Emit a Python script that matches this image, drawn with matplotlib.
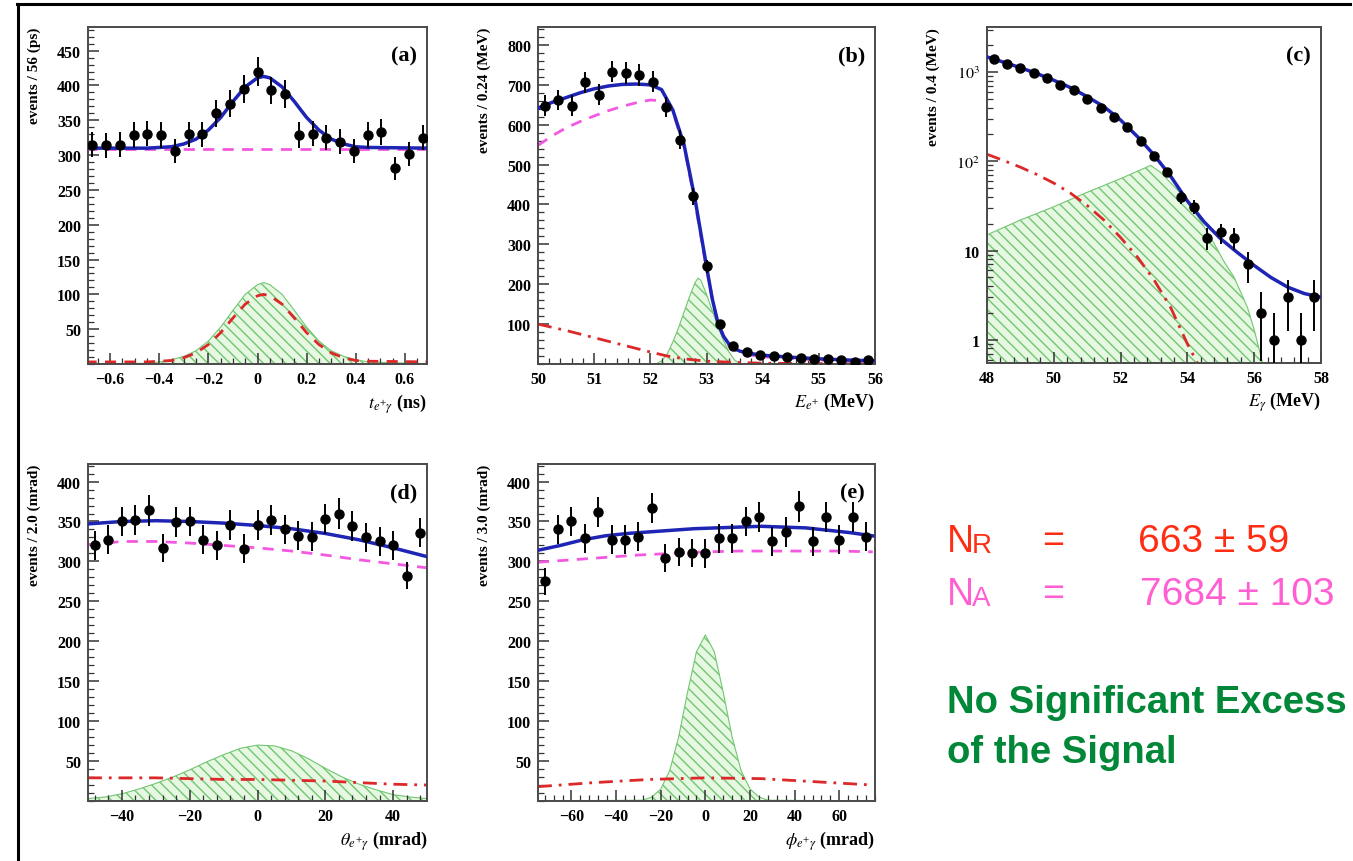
import numpy as np
import matplotlib
matplotlib.use("Agg")
import matplotlib.pyplot as plt
from matplotlib.ticker import AutoMinorLocator, FixedLocator, FixedFormatter, LogLocator, NullFormatter
from matplotlib.lines import Line2D

plt.rcParams['font.family'] = ['Liberation Serif', 'DejaVu Serif']
plt.rcParams['mathtext.fontset'] = 'stix'
plt.rcParams['hatch.linewidth'] = 1.0

# ---- (a) t_e+gamma ----
a_x = [-0.672, -0.616, -0.56, -0.504, -0.448, -0.392, -0.336, -0.28, -0.224, -0.168, -0.112, -0.056,
       0.0, 0.056, 0.112, 0.168, 0.224, 0.28, 0.336, 0.392, 0.448, 0.504, 0.56, 0.616, 0.672]
a_y = [315, 314, 315, 329, 331, 329, 306, 330, 330, 360, 374, 395, 420, 393, 388, 329, 331, 325, 319,
       306, 329, 333, 281, 302, 325]
a_cx = [-0.7, -0.45, -0.4, -0.35, -0.3, -0.25, -0.2, -0.15, -0.1, -0.05, 0.0, 0.025, 0.05, 0.1, 0.15,
        0.2, 0.25, 0.3, 0.35, 0.4, 0.45, 0.7]
a_tot = [310, 310, 311, 312, 316, 323, 336, 354, 377, 398, 411, 413, 411, 398, 377, 354, 336, 323, 316,
         312, 311, 310]
a_rmd = [3, 3, 4, 5, 9, 16, 28, 45, 66, 86, 98, 100, 98, 86, 66, 45, 28, 16, 9, 5, 4, 3]
a_sig = [0, 1, 3, 6, 11, 19, 33, 53, 77, 100, 114, 117, 114, 100, 77, 53, 33, 19, 11, 6, 3, 0]
a_accx = [-0.7, 0.7]
a_acc = [309, 309]

# ---- (b) E_e+ ----
b_x = [50.12, 50.36, 50.6, 50.84, 51.08, 51.32, 51.56, 51.8, 52.04, 52.28, 52.52, 52.76, 53.0, 53.24,
       53.48, 53.72, 53.96, 54.2, 54.44, 54.68, 54.92, 55.16, 55.4, 55.64, 55.88]
b_y = [648, 662, 648, 706, 675, 733, 729, 725, 708, 645, 562, 420, 245, 100, 45, 30, 22, 20, 18, 15, 13,
       12, 10, 6, 10]
b_cx = [50.0, 50.25, 50.5, 50.75, 51.0, 51.25, 51.5, 51.75, 52.0, 52.2, 52.4, 52.6, 52.8, 53.0, 53.1,
        53.2, 53.3, 53.4, 53.5, 53.6, 53.8, 54.0, 54.5, 55.0, 55.5, 56.0]
b_tot = [642, 656, 668, 680, 690, 697, 701, 702, 700, 688, 637, 550, 410, 245, 165, 105, 70, 50, 38, 32,
         26, 22, 17, 13, 10, 8]
b_accx = [50.0, 50.25, 50.5, 50.75, 51.0, 51.25, 51.5, 51.75, 52.0, 52.2, 52.4, 52.6, 52.8, 53.0, 53.2,
          53.4, 53.6, 54.0, 55.0, 56.0]
b_acc = [548, 572, 592, 608, 622, 635, 646, 655, 662, 660, 632, 545, 402, 238, 100, 45, 26, 18, 10, 6]
b_rmdx = [50.0, 50.5, 51.0, 51.5, 52.0, 52.3, 52.6, 53.0, 53.5, 54.0, 55.0, 56.0]
b_rmd = [100, 84, 66, 48, 30, 20, 13, 7, 4, 2, 1, 0]
b_sigx = [50.0, 52.1, 52.2, 52.3, 52.4, 52.5, 52.6, 52.7, 52.8, 52.85, 52.9, 53.0, 53.1, 53.2, 53.3,
          53.4, 53.5, 53.6, 56.0]
b_sig = [0, 0, 8, 25, 55, 90, 130, 170, 205, 215, 210, 175, 135, 95, 60, 30, 10, 0, 0]

# ---- (c) E_gamma (log) ----
c_x = [48.2, 48.6, 49.0, 49.4, 49.8, 50.2, 50.6, 51.0, 51.4, 51.8, 52.2, 52.6, 53.0, 53.4, 53.8, 54.2,
       54.6, 55.0, 55.4, 55.8, 56.2, 56.6, 57.0, 57.4, 57.8]
c_y = [1400, 1230, 1100, 970, 850, 714, 628, 497, 400, 310, 240, 170, 115, 75, 40, 31, 14, 16, 14, 7,
       2, 1, 3, 1, 3]
c_cx = [48.0, 48.5, 49.0, 49.5, 50.0, 50.5, 51.0, 51.5, 52.0, 52.5, 53.0, 53.5, 54.0, 54.5, 55.0, 55.5,
        56.0, 56.5, 57.0, 57.5, 58.0]
c_tot = [1480, 1290, 1120, 960, 810, 670, 530, 410, 290, 190, 118, 68, 36, 21, 13.5, 9.5, 6.8, 5.0,
         3.9, 3.3, 3.0]
c_rmdx = [48.0, 48.5, 49.0, 49.5, 50.0, 50.5, 51.0, 51.5, 52.0, 52.5, 53.0, 53.5, 54.0, 54.3]
c_rmd = [120, 102, 86, 71, 57, 44, 32, 22, 14, 8.5, 4.7, 2.3, 0.9, 0.55]
c_sigx = [48.0, 49.0, 50.0, 51.0, 52.0, 52.9, 53.2, 53.7, 54.2, 54.7, 55.1, 55.4, 55.8, 56.0, 56.25]
c_sig = [15, 22, 31, 45, 64, 90, 75, 48, 28, 14, 7.5, 5, 2.3, 1.3, 0.55]

# ---- (d) theta_e+gamma ----
d_x = [-48, -44, -40, -36, -32, -28, -24, -20, -16, -12, -8, -4, 0, 4, 8, 12, 16, 20, 24, 28, 32, 36,
       40, 44, 48]
d_y = [320, 327, 350, 352, 364, 317, 349, 350, 327, 320, 346, 316, 346, 352, 340, 332, 331, 353, 360,
       344, 330, 325, 320, 282, 336]
d_cx = [-50, -40, -30, -20, -10, 0, 10, 20, 30, 40, 50]
d_tot = [347, 350, 351, 350, 348, 345, 341, 335, 327, 317, 306]
d_acc = [321, 325, 325, 323, 320, 317, 313, 308, 302, 297, 292]
d_rmd = [29, 29, 29, 28, 27, 27, 26, 25, 23, 21, 20]
d_sigx = [-50, -45, -40, -35, -30, -25, -20, -15, -10, -5, 0, 5, 10, 15, 20, 25, 30, 35, 40, 45, 50]
d_sig = [3, 5, 9, 15, 22, 30, 39, 49, 58, 66, 70, 69, 63, 53, 41, 30, 21, 14, 8, 5, 3]

# ---- (e) phi_e+gamma ----
e_x = [-72, -66, -60, -54, -48, -42, -36, -30, -24, -18, -12, -6, 0, 6, 12, 18, 24, 30, 36, 42, 48, 54,
       60, 66, 72]
e_y = [275, 340, 350, 329, 362, 327, 327, 331, 367, 304, 312, 311, 310, 329, 329, 350, 356, 325, 337,
       369, 325, 356, 327, 356, 331]
e_cx = [-75, -65, -55, -45, -35, -25, -15, -5, 5, 15, 25, 35, 45, 55, 65, 75]
e_tot = [314, 320, 327, 332, 335, 337, 339, 341, 342, 343, 344, 343, 342, 339, 336, 332]
e_accx = [-75, -60, -45, -30, -15, 0, 15, 30, 45, 60, 75]
e_acc = [299, 302, 305, 308, 310, 312, 313, 313, 313, 313, 312]
e_rmdx = [-75, -50, -25, 0, 25, 50, 75]
e_rmd = [18, 23, 27, 29, 28, 24, 20]
e_sigx = [-75, -28, -24, -20, -16, -12, -8, -4, 0, 4, 8, 12, 16, 20, 24, 28, 75]
e_sig = [0, 1, 5, 15, 38, 80, 136, 187, 208, 187, 136, 80, 38, 15, 5, 1, 0]

BLUE = '#1e24b4'
MAG = '#f458e0'
RED = '#dc2828'

W, H = 1353, 862
fig = plt.figure(figsize=(W / 100, H / 100), dpi=100)


def box(l, t, r, b):
    return [l / W, 1 - b / H, (r - l) / W, (b - t) / H]


def style(ax, tag, ylab, xlab):
    for s in ax.spines.values():
        s.set_color('#4a4a4a')
        s.set_linewidth(1.4)
    ax.tick_params(which='both', direction='in', top=False, right=False, color='#333333',
                   labelsize=11.5, pad=5)
    ax.tick_params(which='major', length=8, width=1.1)
    ax.tick_params(which='minor', length=4, width=0.9)
    for lab in ax.get_xticklabels() + ax.get_yticklabels():
        lab.set_fontweight('bold')
    ax.text(0.97, 0.915, tag, transform=ax.transAxes, ha='right', va='center',
            fontsize=16, fontweight='bold')
    ax.set_ylabel(ylab, fontsize=11, fontweight='bold', loc='top')
    ax.yaxis.set_label_coords(-0.14, 1.0)
    ax.set_xlabel(xlab, fontsize=13, fontweight='bold', loc='right')
    ax.xaxis.set_label_coords(1.0, -0.08)


def draw(ax, x, y, cx, tot, accx, acc, rmdx, rmd, sigx, sig, rmd_dash, floor=0):
    ax.fill_between(sigx, sig, floor, facecolor='#e6f7e2', edgecolor='#72c672', hatch='\\\\\\',
                    linewidth=0.8, zorder=1)
    if accx is not None:
        ax.plot(accx, acc, color=MAG, lw=2.0, dashes=(4, 3), zorder=2)
    ax.plot(rmdx, rmd, color=RED, lw=2.0, dashes=rmd_dash, zorder=2)
    ax.plot(cx, tot, color=BLUE, lw=2.5, zorder=3)
    y = np.array(y, dtype=float)
    err = np.sqrt(y)
    lo = np.minimum(err, y - 0.3)
    ax.errorbar(x, y, yerr=[lo, err], fmt='o', color='black', ms=6.5, elinewidth=1.4, capsize=0,
                zorder=4)


DD = (5, 2.5, 1, 2.5)

# (a)
ax = fig.add_axes(box(88, 28, 427, 365))
draw(ax, a_x, a_y, a_cx, a_tot, a_accx, a_acc, a_cx, a_rmd, a_cx, a_sig, (4, 3))
ax.set_xlim(-0.69, 0.69)
ax.set_ylim(0, 484)
ax.xaxis.set_major_locator(FixedLocator([-0.6, -0.4, -0.2, 0, 0.2, 0.4, 0.6]))
ax.xaxis.set_major_formatter(FixedFormatter(['\u22120.6', '\u22120.4', '\u22120.2', '0', '0.2', '0.4', '0.6']))
ax.yaxis.set_major_locator(FixedLocator([50, 100, 150, 200, 250, 300, 350, 400, 450]))
ax.xaxis.set_minor_locator(AutoMinorLocator(4))
ax.yaxis.set_minor_locator(AutoMinorLocator(5))
style(ax, '(a)', 'events / 56 (ps)', r'$t_{e^{+}\gamma}$ (ns)')

# (b)
ax = fig.add_axes(box(538, 28, 875, 365))
draw(ax, b_x, b_y, b_cx, b_tot, b_accx, b_acc, b_rmdx, b_rmd, b_sigx, b_sig, DD)
ax.set_xlim(50, 56)
ax.set_ylim(0, 845)
ax.xaxis.set_major_locator(FixedLocator([50, 51, 52, 53, 54, 55, 56]))
ax.yaxis.set_major_locator(FixedLocator([100, 200, 300, 400, 500, 600, 700, 800]))
ax.xaxis.set_minor_locator(AutoMinorLocator(5))
ax.yaxis.set_minor_locator(AutoMinorLocator(5))
style(ax, '(b)', 'events / 0.24 (MeV)', r'$E_{e^{+}}$ (MeV)')

# (c)
ax = fig.add_axes(box(987, 28, 1321, 364))
ax.set_yscale('log')
draw(ax, c_x, c_y, c_cx, c_tot, None, None, c_rmdx, c_rmd, c_sigx, c_sig, DD, floor=0.1)
ax.set_xlim(48, 58)
ax.set_ylim(0.55, 3200)
ax.xaxis.set_major_locator(FixedLocator([48, 50, 52, 54, 56, 58]))
ax.xaxis.set_minor_locator(AutoMinorLocator(5))
ax.yaxis.set_major_locator(FixedLocator([1, 10, 100, 1000]))
ax.yaxis.set_major_formatter(FixedFormatter(['1', '10', r'$10^{2}$', r'$10^{3}$']))
ax.yaxis.set_minor_locator(LogLocator(base=10, subs=np.arange(2, 10)))
ax.yaxis.set_minor_formatter(NullFormatter())
style(ax, '(c)', 'events / 0.4 (MeV)', r'$E_{\gamma}$ (MeV)')

# (d)
ax = fig.add_axes(box(88, 465, 427, 802))
draw(ax, d_x, d_y, d_cx, d_tot, d_cx, d_acc, d_cx, d_rmd, d_sigx, d_sig, DD)
ax.set_xlim(-50, 50)
ax.set_ylim(0, 422)
ax.xaxis.set_major_locator(FixedLocator([-40, -20, 0, 20, 40]))
ax.yaxis.set_major_locator(FixedLocator([50, 100, 150, 200, 250, 300, 350, 400]))
ax.xaxis.set_minor_locator(AutoMinorLocator(5))
ax.yaxis.set_minor_locator(AutoMinorLocator(5))
style(ax, '(d)', 'events / 2.0 (mrad)', r'$\theta_{e^{+}\gamma}$ (mrad)')

# (e)
ax = fig.add_axes(box(538, 465, 875, 802))
draw(ax, e_x, e_y, e_cx, e_tot, e_accx, e_acc, e_rmdx, e_rmd, e_sigx, e_sig, DD)
ax.set_xlim(-75, 76)
ax.set_ylim(0, 422)
ax.xaxis.set_major_locator(FixedLocator([-60, -40, -20, 0, 20, 40, 60]))
ax.yaxis.set_major_locator(FixedLocator([50, 100, 150, 200, 250, 300, 350, 400]))
ax.xaxis.set_minor_locator(AutoMinorLocator(5))
ax.yaxis.set_minor_locator(AutoMinorLocator(5))
style(ax, '(e)', 'events / 3.0 (mrad)', r'$\phi_{e^{+}\gamma}$ (mrad)')

# frame lines of the slide
fig.add_artist(Line2D([17 / W, 1350 / W], [1 - 5 / H, 1 - 5 / H], color='black', lw=2.2))
fig.add_artist(Line2D([18 / W, 18 / W], [0, 1 - 5 / H], color='black', lw=2.2))

# result text
sans = ['Liberation Sans', 'DejaVu Sans']
RTXT = '#ff2d14'
PTXT = '#ff5fd2'
GTXT = '#008737'


def px(x, y):
    return x / W, 1 - y / H


fig.text(*px(947, 552), 'N', color=RTXT, fontsize=27, family=sans, va='baseline')
fig.text(*px(972, 553), 'R', color=RTXT, fontsize=20, family=sans, va='baseline')
fig.text(*px(1053, 552), '=', color=RTXT, fontsize=27, family=sans, va='baseline', ha='center')
fig.text(*px(1138, 552), '663 \u00b1 59', color=RTXT, fontsize=28, family=sans, va='baseline')

fig.text(*px(947, 605), 'N', color=PTXT, fontsize=27, family=sans, va='baseline')
fig.text(*px(972, 606), 'A', color=PTXT, fontsize=20, family=sans, va='baseline')
fig.text(*px(1053, 605), '=', color=PTXT, fontsize=27, family=sans, va='baseline', ha='center')
fig.text(*px(1140, 605), '7684 \u00b1 103', color=PTXT, fontsize=28, family=sans, va='baseline')

fig.text(*px(947, 713), 'No Significant Excess', color=GTXT, fontsize=27.5, family=sans,
         fontweight='bold', va='baseline')
fig.text(*px(947, 763), 'of the Signal', color=GTXT, fontsize=27.5, family=sans,
         fontweight='bold', va='baseline')

fig.savefig('out.png', dpi=100)
